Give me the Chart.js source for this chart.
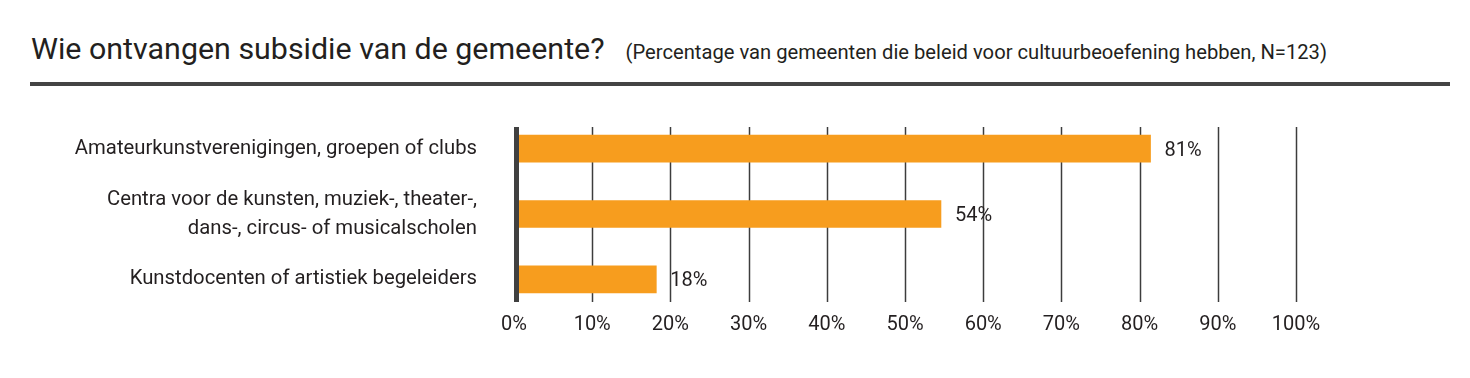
<!DOCTYPE html>
<html>
<head>
<meta charset="utf-8">
<script src="https://cdn.jsdelivr.net/npm/chart.js@4/dist/chart.umd.min.js"></script>
<style>
  body { margin: 0; background: #fff; width: 1470px; height: 378px; overflow: hidden; font-family: Roboto, sans-serif; color: #231f20; }
  #title { position: absolute; left: 31px; top: 31px; white-space: nowrap; }
  #title .main { font-size: 30.4px; }
  #title .sub { font-size: 20.2px; margin-left: 21px; }
  #rule { position: absolute; left: 30px; top: 82px; width: 1420px; height: 4px; background: #444; }
  #wrap { position: absolute; left: 0; top: 100px; width: 1470px; height: 278px; }
</style>
</head>
<body>
<div id="title"><span class="main">Wie ontvangen subsidie van de gemeente?</span><span class="sub">(Percentage van gemeenten die beleid voor cultuurbeoefening hebben, N=123)</span></div>
<div id="rule"></div>
<div id="wrap"><canvas id="subsidieChart"></canvas></div>
<script>
const categories = [
    'Amateurkunstverenigingen, groepen of clubs',
    ['Centra voor de kunsten, muziek-, theater-,', 'dans-, circus- of musicalscholen'],
    'Kunstdocenten of artistiek begeleiders'
];
const percentages = [81.4, 54.6, 18.2];
const valueLabels = ['81%', '54%', '18%'];
const tickValues = [0, 10, 20, 30, 40, 50, 60, 70, 80, 90, 100];

const textColor = '#231f20';
const fontFamily = 'Roboto, sans-serif';

// raster + as lijn zelf tekenen, zodat ze niet tot de rand van het vlak lopen
const gridPlugin = {
    id: 'customGrid',
    beforeDatasetsDraw(chart) {
        const { ctx, chartArea, scales } = chart;
        ctx.save();
        ctx.strokeStyle = '#3d3d3d';
        ctx.lineWidth = 1.5;
        tickValues.slice(1).forEach(v => {
            const x = Math.round(scales.x.getPixelForValue(v)) + 0.5;
            ctx.beginPath();
            ctx.moveTo(x, chartArea.top + 11);
            ctx.lineTo(x, chartArea.bottom - 10);
            ctx.stroke();
        });
        ctx.restore();
    },
    afterDatasetsDraw(chart) {
        const { ctx, chartArea, scales } = chart;
        const meta = chart.getDatasetMeta(0);
        ctx.save();
        // nul-as
        ctx.fillStyle = '#404040';
        const x0 = scales.x.getPixelForValue(0);
        ctx.fillRect(x0, chartArea.top + 11, 5, chartArea.bottom - chartArea.top - 21);
        // waarden naast de balken
        ctx.fillStyle = textColor;
        ctx.font = '20px ' + fontFamily;
        ctx.textBaseline = 'middle';
        meta.data.forEach((bar, i) => {
            ctx.fillText(valueLabels[i], bar.x + 14, bar.y + 2);
        });
        ctx.restore();
    }
};

new Chart(document.getElementById('subsidieChart').getContext('2d'), {
    type: 'bar',
    data: {
        labels: categories,
        datasets: [{
            data: percentages,
            backgroundColor: '#f79d1e',
            barThickness: 27
        }]
    },
    options: {
        indexAxis: 'y',
        responsive: true,
        maintainAspectRatio: false,
        animation: false,
        layout: { padding: { top: 16, right: 174, left: 0, bottom: 0 } },
        scales: {
            x: {
                min: 0,
                max: 100,
                afterBuildTicks: axis => { axis.ticks = tickValues.map(v => ({ value: v })); },
                afterFit: axis => {
                    axis.height = 66;
                    axis.paddingLeft = 0;
                    axis.paddingRight = 0;
                },
                grid: { display: false, drawTicks: false },
                border: { display: false },
                ticks: {
                    padding: 1,
                    autoSkip: false,
                    maxRotation: 0,
                    color: textColor,
                    font: { family: fontFamily, size: 20 },
                    callback: v => v + '%'
                }
            },
            y: {
                afterFit: axis => {
                    axis.width = 514;
                    axis.paddingTop = 0;
                    axis.paddingBottom = 0;
                },
                grid: { display: false, drawTicks: false },
                border: { display: false },
                ticks: {
                    padding: 37,
                    autoSkip: false,
                    color: textColor,
                    font: { family: fontFamily, size: 20.3, lineHeight: 1.43 }
                }
            }
        },
        plugins: {
            legend: { display: false },
            tooltip: { enabled: false }
        }
    },
    plugins: [gridPlugin]
});
</script>
</body>
</html>
